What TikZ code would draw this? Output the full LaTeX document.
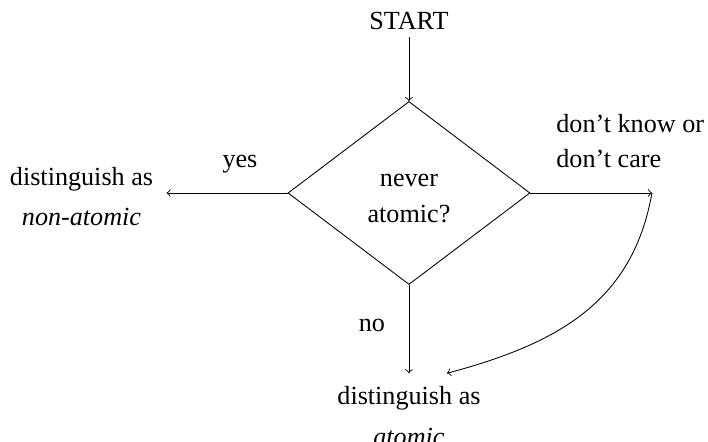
\documentclass[tikz,border=0pt]{standalone}
\usepackage{fontspec}
\setmainfont{Liberation Serif}
\usetikzlibrary{shapes.geometric}

\begin{document}
\begin{tikzpicture}[
        every node/.style={font=\fontsize{12}{14.4}\selectfont},
        decision/.style={diamond,draw,minimum width=3.904cm,minimum height=2.952cm,inner sep=0pt,align=center,text height=27.4pt,text depth=0pt,font=\fontsize{12}{16.5}\selectfont},
        outcome/.style={align=center,inner sep=6pt,font=\fontsize{12}{18.4}\selectfont},
        answer/.style={align=left,inner sep=0pt,font=\fontsize{12}{16}\selectfont}]
        \useasboundingbox (-6.597,-4.016) rectangle (4.823,3.113);
        \node (start) at (0, 2.645)[anchor=base]{START};
        \node (test) at (0, 0)[decision]{never\\atomic?};
        \node (nonatomic) at (-5.282, -0.532)[outcome,anchor=base]{distinguish as\\\textit{non-atomic}};
        \node (atomic) at (0, -4.065)[outcome,anchor=base]{distinguish as\\\textit{atomic}};
        \coordinate (dk) at (3.919, 0);
        \node (yes) at (-2.726, 0.419)[anchor=base]{yes};
        \node (no) at (-0.597, -2.23)[anchor=base]{no};
        \node (dkdc) at (2.371, 0.419)[answer,anchor=base west]{don't know or\\don't care};
        \draw[->] (start) -- (test);
        \draw[->] (test.west) -- (test.west -| nonatomic.east);
        \draw[->] (test.east) -- (dk);
        \draw[->] (test.south) -- (atomic.north);
        \draw[->] (dk) to[out=260, in=15, looseness=1.05] ([xshift=0.613cm]atomic.north);
    \end{tikzpicture}
\end{document}
